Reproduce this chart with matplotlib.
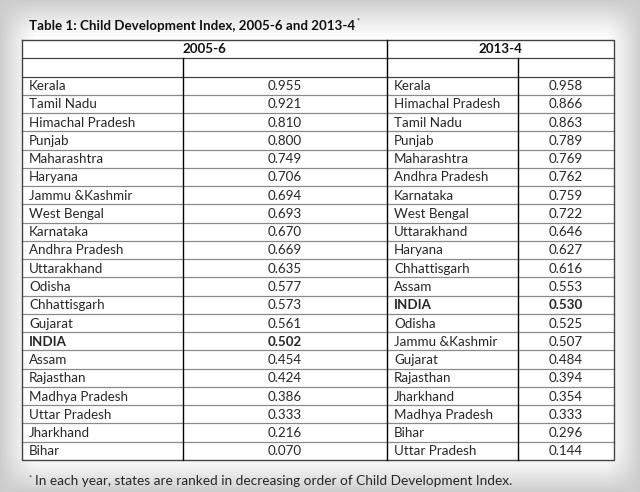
import numpy as np
import matplotlib.pyplot as plt

states_2005 = ["Kerala", "Tamil Nadu", "Himachal Pradesh", "Punjab", "Maharashtra",
               "Haryana", "Jammu &Kashmir", "West Bengal", "Karnataka", "Andhra Pradesh",
               "Uttarakhand", "Odisha", "Chhattisgarh", "Gujarat", "INDIA", "Assam",
               "Rajasthan", "Madhya Pradesh", "Uttar Pradesh", "Jharkhand", "Bihar"]
cdi_2005 = [0.955, 0.921, 0.810, 0.800, 0.749, 0.706, 0.694, 0.693, 0.670, 0.669,
            0.635, 0.577, 0.573, 0.561, 0.502, 0.454, 0.424, 0.386, 0.333, 0.216, 0.070]

states_2013 = ["Kerala", "Himachal Pradesh", "Tamil Nadu", "Punjab", "Maharashtra",
               "Andhra Pradesh", "Karnataka", "West Bengal", "Uttarakhand", "Haryana",
               "Chhattisgarh", "Assam", "INDIA", "Odisha", "Jammu &Kashmir", "Gujarat",
               "Rajasthan", "Jharkhand", "Madhya Pradesh", "Bihar", "Uttar Pradesh"]
cdi_2013 = [0.958, 0.866, 0.863, 0.789, 0.769, 0.762, 0.759, 0.722, 0.646, 0.627,
            0.616, 0.553, 0.530, 0.525, 0.507, 0.484, 0.394, 0.354, 0.333, 0.296, 0.144]

headers = ["2005-6", "2013-4"]
title = "Table 1: Child Development Index, 2005-6 and 2013-4"
note = "In each year, states are ranked in decreasing order of Child Development Index."

plt.rcParams['font.family'] = ['Lato', 'DejaVu Sans']

fig = plt.figure(figsize=(6.4, 4.92), dpi=100)
ax = fig.add_axes([0, 0, 1, 1])
ax.set_xlim(0, 640)
ax.set_ylim(492, 0)
ax.axis('off')

# vignette background, soft grey towards the edges
yy, xx = np.mgrid[0:492, 0:640]
ex = np.clip((np.abs(xx - 320) - 285) / 35.0, 0, 1)
ey = np.clip((np.abs(yy - 246) - 205) / 41.0, 0, 1)
e = 1 - (1 - ex ** 1.3) * (1 - ey ** 1.3)
shade = 1.0 - 0.2 * e
ax.imshow(shade, cmap='gray', vmin=0, vmax=1, extent=(0, 640, 492, 0), zorder=0)

txt = '#262626'
fs = 9.6
x0, x1, xm, x2, x3 = 22, 183, 387, 518, 614
top = 40
rh = 18.26
n = len(states_2005)
bottom = top + rh * (n + 2)

# table body
ax.fill_between([x0, x3], top, bottom, color='white', zorder=1)

# horizontal rules
for i in range(1, n + 2):
    y = top + rh * i
    ax.plot([x0, x3], [y, y], color='#444444' if i <= 2 else '#8a8a8a', lw=0.9, zorder=2)
# outer border and verticals
ax.plot([x0, x3, x3, x0, x0], [top, top, bottom, bottom, top], color='#444444', lw=1.0, zorder=3)
ax.plot([xm, xm], [top, bottom], color='black', lw=1.0, zorder=3)
ax.plot([x1, x1], [top + rh, bottom], color='black', lw=1.0, zorder=3)
ax.plot([x2, x2], [top + rh, bottom], color='black', lw=1.0, zorder=3)

ax.text((x0 + xm) / 2, top + rh / 2, headers[0], ha='center', va='center',
        fontsize=fs, fontweight='bold', color='#111111', zorder=4)
ax.text((xm + x3) / 2, top + rh / 2, headers[1], ha='center', va='center',
        fontsize=fs, fontweight='bold', color='#111111', zorder=4)

for i in range(n):
    y = top + rh * (i + 2) + rh / 2 + 0.5
    for names, vals, xl, xc in [(states_2005, cdi_2005, x0, (x1 + xm) / 2),
                                (states_2013, cdi_2013, xm, (x2 + x3) / 2)]:
        w = 'bold' if names[i] == 'INDIA' else 'normal'
        ax.text(xl + 7, y, names[i], ha='left', va='center', fontsize=fs,
                fontweight=w, color=txt, zorder=4)
        ax.text(xc, y, f"{vals[i]:.3f}", ha='center', va='center', fontsize=fs,
                fontweight=w, color=txt, zorder=4)

t = ax.text(29, 26, title, ha='left', va='center', fontsize=9.6, fontweight='bold',
            color='#111111', zorder=4)
fig.canvas.draw()
bb = t.get_window_extent().transformed(ax.transData.inverted())
ax.text(bb.x1 + 1, 21, "*", ha='left', va='center', fontsize=5, color='#111111', zorder=4)

ax.text(29, 478, "*", ha='left', va='center', fontsize=5, color=txt, zorder=4)
ax.text(35, 481, note, ha='left', va='center', fontsize=9.8, color=txt, zorder=4)

fig.savefig('out.png', dpi=100)
